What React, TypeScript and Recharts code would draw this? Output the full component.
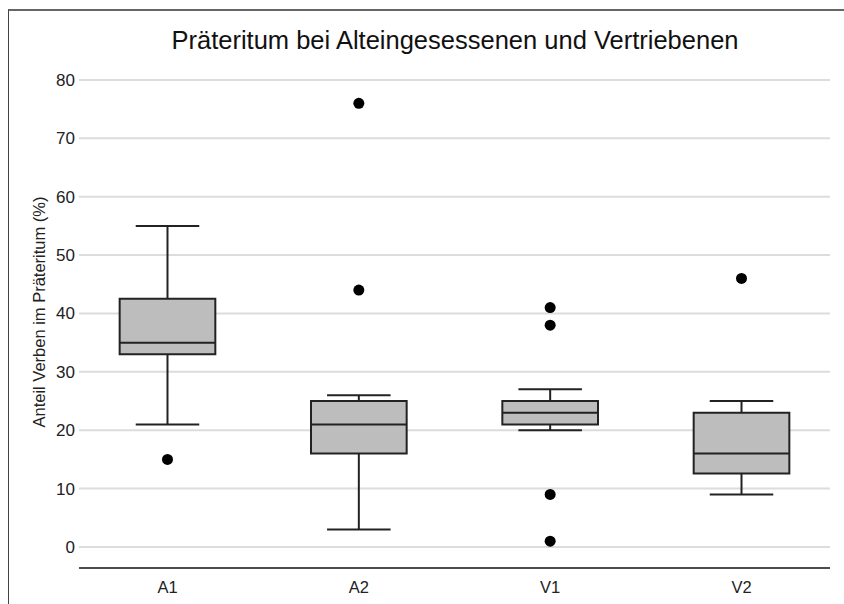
import {
  ComposedChart,
  XAxis,
  YAxis,
  CartesianGrid,
  Scatter,
  ReferenceArea,
  ReferenceLine,
} from "recharts";

const categories = ["A1", "A2", "V1", "V2"];
const whiskerLow = [21, 3, 20, 9];
const q1 = [33, 16, 21, 12.6];
const median = [35, 21, 23, 16];
const q3 = [42.5, 25, 25, 23];
const whiskerHigh = [55, 26, 27, 25];
const outliers = [[15], [76, 44], [41, 38, 9, 1], [46]];
const yTicks = [0, 10, 20, 30, 40, 50, 60, 70, 80];

const BOX_HALF = 0.25;
const CAP_HALF = 0.166;
const INK = "#222";

const outlierPoints = outliers.flatMap((vals, i) =>
  vals.map((v) => ({ x: i + 1, y: v }))
);

function YLabel(props: any) {
  const { viewBox } = props;
  const x = viewBox.x + 30;
  const y = viewBox.y + viewBox.height / 2;
  return (
    <text
      x={x}
      y={y}
      transform={`rotate(-90, ${x}, ${y})`}
      textAnchor="middle"
      dominantBaseline="central"
      fontSize={16.5}
      fill={INK}
    >
      Anteil Verben im Präteritum (%)
    </text>
  );
}

export default function App() {
  return (
    <div
      style={{
        position: "fixed",
        top: 9,
        left: 8,
        width: 836,
        height: 595,
        boxSizing: "border-box",
        borderTop: "2px solid #666",
        borderLeft: "1.5px solid #444",
        fontFamily: "'Liberation Sans', Arial, sans-serif",
        background: "#fff",
      }}
    >
      <div
        style={{
          position: "absolute",
          top: 16,
          left: 446,
          transform: "translateX(-50%)",
          whiteSpace: "nowrap",
          fontSize: 25.5,
          lineHeight: "26px",
          color: "#111",
        }}
      >
        Präteritum bei Alteingesessenen und Vertriebenen
      </div>
      <ComposedChart
        width={834}
        height={593}
        margin={{ top: 45, right: 13, bottom: 0, left: 0 }}
      >
        <CartesianGrid
          vertical={false}
          stroke="#dcdcdc"
          strokeWidth={2}
          horizontalValues={yTicks}
          syncWithTicks
        />
        <XAxis
          dataKey="x"
          type="number"
          domain={[0.5375, 4.4625]}
          allowDataOverflow
          ticks={[1, 2, 3, 4]}
          tickFormatter={(v: number) => categories[v - 1] ?? ""}
          height={36}
          tickLine={false}
          tickSize={0}
          tickMargin={13}
          axisLine={{ stroke: "#111", strokeWidth: 1.5 }}
          tick={{ fill: INK, fontSize: 16.5 }}
        />
        <YAxis
          type="number"
          domain={[-3.6, 84.1]}
          allowDataOverflow
          ticks={yTicks}
          width={70}
          axisLine={false}
          tickLine={false}
          tickSize={0}
          tickMargin={4}
          tick={{ fill: INK, fontSize: 17 }}
          label={<YLabel />}
        />
        {categories.map((c, i) => (
          <ReferenceLine
            key={`wu-${c}`}
            segment={[
              { x: i + 1, y: q3[i] },
              { x: i + 1, y: whiskerHigh[i] },
            ]}
            stroke={INK}
            strokeWidth={2}
          />
        ))}
        {categories.map((c, i) => (
          <ReferenceLine
            key={`wl-${c}`}
            segment={[
              { x: i + 1, y: q1[i] },
              { x: i + 1, y: whiskerLow[i] },
            ]}
            stroke={INK}
            strokeWidth={2}
          />
        ))}
        {categories.map((c, i) => (
          <ReferenceLine
            key={`cu-${c}`}
            segment={[
              { x: i + 1 - CAP_HALF, y: whiskerHigh[i] },
              { x: i + 1 + CAP_HALF, y: whiskerHigh[i] },
            ]}
            stroke={INK}
            strokeWidth={2}
          />
        ))}
        {categories.map((c, i) => (
          <ReferenceLine
            key={`cl-${c}`}
            segment={[
              { x: i + 1 - CAP_HALF, y: whiskerLow[i] },
              { x: i + 1 + CAP_HALF, y: whiskerLow[i] },
            ]}
            stroke={INK}
            strokeWidth={2}
          />
        ))}
        {categories.map((c, i) => (
          <ReferenceArea
            key={`box-${c}`}
            x1={i + 1 - BOX_HALF}
            x2={i + 1 + BOX_HALF}
            y1={q1[i]}
            y2={q3[i]}
            fill="#bdbdbd"
            fillOpacity={1}
            stroke={INK}
            strokeWidth={2}
          />
        ))}
        {categories.map((c, i) => (
          <ReferenceLine
            key={`med-${c}`}
            segment={[
              { x: i + 1 - BOX_HALF, y: median[i] },
              { x: i + 1 + BOX_HALF, y: median[i] },
            ]}
            stroke={INK}
            strokeWidth={2}
          />
        ))}
        <Scatter
          data={outlierPoints}
          dataKey="y"
          isAnimationActive={false}
          shape={(p: any) => <circle cx={p.cx} cy={p.cy} r={5.5} fill="#000" />}
        />
      </ComposedChart>
    </div>
  );
}
